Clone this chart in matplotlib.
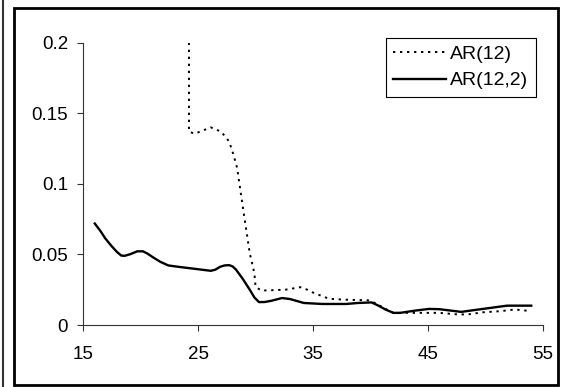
import matplotlib
matplotlib.use('Agg')
import matplotlib.pyplot as plt
import matplotlib.patches as patches
import numpy as np

plt.rcParams['font.family'] = ['Liberation Sans', 'DejaVu Sans']

#AR(12,2) - solid line
X_AR122 = [16.0, 16.5, 16.9, 17.4, 17.9, 18.3, 18.6, 19.1, 19.7, 20.2, 20.6, 21.1, 21.7, 22.4, 23.3,
           25.2, 26.1, 26.5, 26.9, 27.3, 27.7, 28.0, 28.3, 28.9, 29.5, 29.9, 30.3, 30.8, 31.4,
           32.3, 33.0, 34.2, 35.8, 37.9, 38.9, 40.1, 40.7, 41.3, 42.0, 42.6, 43.9,
           45.1, 46.0, 47.9, 49.8, 51.9, 54.0]
Y_AR122 = [0.0719, 0.0665, 0.0615, 0.0565, 0.052, 0.0492, 0.049, 0.0502, 0.0522, 0.0522, 0.0505, 0.0478,
           0.0448, 0.0422, 0.0412, 0.0393, 0.0384, 0.0392, 0.0412, 0.0422, 0.0424, 0.0415, 0.0392,
           0.0325, 0.0249, 0.0195, 0.0162, 0.0163, 0.0172, 0.0191, 0.0184, 0.0156, 0.0149, 0.0149,
           0.0156, 0.016, 0.0137, 0.011, 0.0086, 0.0086, 0.0102, 0.0114, 0.0112, 0.0093, 0.0114, 0.0137, 0.0137]

#AR(12) - dotted line
X_AR12 = [24.2, 24.2, 24.7, 26.1, 27.0, 27.7, 28.1, 28.4, 28.9, 29.5, 29.9, 30.0, 30.5, 32.6, 33.9,
          34.5, 35.1, 36.4, 37.6, 39.8, 40.4, 41.4, 42.0, 43.2, 46.0, 47.6, 48.5, 49.8, 51.3, 52.6, 54.0]
Y_AR12 = [0.2, 0.137, 0.1355, 0.14, 0.137, 0.13, 0.12, 0.111, 0.083, 0.0505, 0.0366, 0.027, 0.0244,
          0.025, 0.0268, 0.025, 0.0226, 0.0186, 0.018, 0.0175, 0.0156, 0.011, 0.0086, 0.0086, 0.0086,
          0.0075, 0.0075, 0.009, 0.0098, 0.011, 0.0098]

X_TICKS = [15, 25, 35, 45, 55]
Y_TICKS = [0, 0.05, 0.1, 0.15, 0.2]
Y_TICKLABELS = ['0', '0.05', '0.1', '0.15', '0.2']

W, H = 561, 387
fig = plt.figure(figsize=(W/100, H/100), dpi=100)
ax = fig.add_axes([83.3/W, 62/H, (542.7-83.3)/W, (325-42.7)/H])

ax.plot(X_AR12, Y_AR12, color='black', linewidth=1.4, linestyle=(0, (1.2, 2.4)), label='AR(12)')
ax.plot(X_AR122, Y_AR122, color='black', linewidth=1.7, label='AR(12,2)')

ax.set_xlim(15, 55)
ax.set_ylim(0, 0.2)
ax.set_xticks(X_TICKS)
ax.set_yticks(Y_TICKS)
ax.set_yticklabels(Y_TICKLABELS)
for s in ['top', 'right']:
    ax.spines[s].set_visible(False)
for s in ['left', 'bottom']:
    ax.spines[s].set_linewidth(0.8)
    ax.spines[s].set_color('#333333')
ax.tick_params(axis='both', direction='out', length=4, width=0.8, color='#333333', labelsize=13.5)
ax.tick_params(axis='y', pad=7)
ax.tick_params(axis='x', pad=11)

leg = ax.legend(loc='upper left', bbox_to_anchor=(385.7/W, 1-37.7/H), bbox_transform=fig.transFigure,
                fancybox=False, edgecolor='black', fontsize=14, handlelength=2.7, handletextpad=0.2,
                labelspacing=0.45, borderpad=0.4, borderaxespad=0, framealpha=1)
leg.get_frame().set_linewidth(0.8)

#outer chart frame
fig.patches.append(patches.Rectangle((13.8/W, 1-384.5/H), (558-13.8)/W, (384.5-7.5)/H,
                                     transform=fig.transFigure, fill=False, edgecolor='black', linewidth=2))
fig.lines.append(plt.Line2D([3.3/W, 3.3/W], [0, 1], transform=fig.transFigure, color='#333333', linewidth=1.5))

fig.savefig('out.png', dpi=100)
